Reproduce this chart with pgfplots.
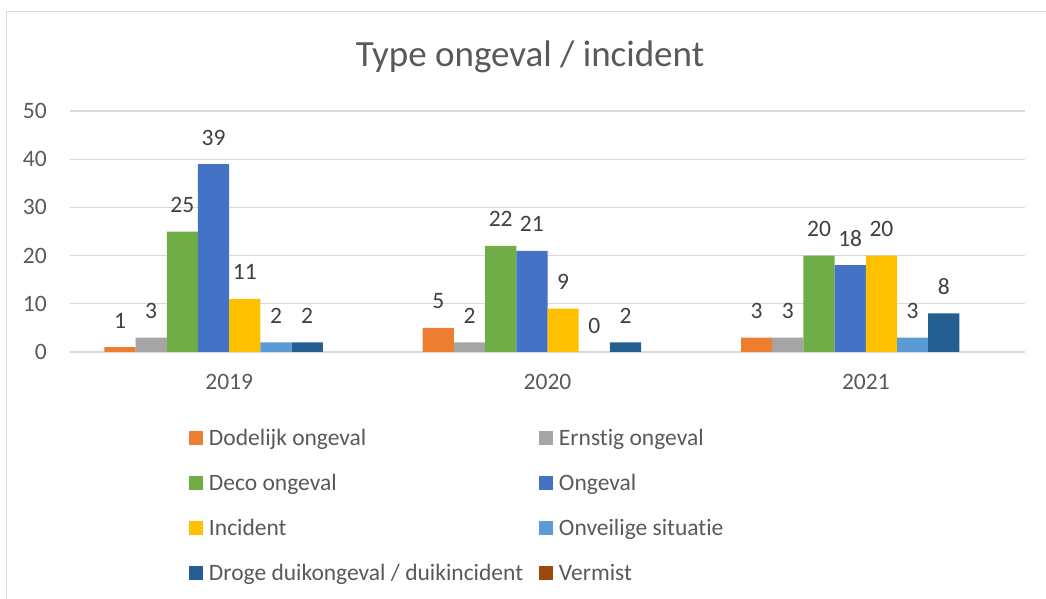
\documentclass[border=0pt]{standalone}
\usepackage{fontspec}
\setmainfont{Carlito}[Ligatures={NoCommon}]
\usepackage{pgfplots}
\pgfplotsset{compat=1.18}
\definecolor{cOrange}{HTML}{ED7D31}
\definecolor{cGrey}{HTML}{A5A5A5}
\definecolor{cGreen}{HTML}{70AD47}
\definecolor{cBlue}{HTML}{4472C4}
\definecolor{cGold}{HTML}{FFC000}
\definecolor{cLight}{HTML}{5B9BD5}
\definecolor{cDark}{HTML}{255E91}
\definecolor{cBrown}{HTML}{9E480E}
\definecolor{txt}{HTML}{595959}
\definecolor{lbl}{HTML}{404040}
\definecolor{gridc}{HTML}{D9D9D9}
\begin{document}
\begin{tikzpicture}
\path[use as bounding box] (0,0) rectangle (1046bp,599bp);
\draw[gridc, line width=1.5bp] (6.5bp,-2bp) -- (6.5bp,587.5bp) -- (1050bp,587.5bp);
\begin{axis}[
  at={(70bp,247bp)}, anchor=south west,
  width=955bp, height=241bp, scale only axis,
  xmin=-0.5, xmax=2.5, ymin=0, ymax=50,
  ybar, bar width=31.2bp,
  xtick={0,1,2}, xticklabels={2019,2020,2021},
  ytick={0,10,20,30,40,50},
  ymajorgrids, grid style={gridc, line width=1.3bp},
  axis line style={draw=none},
  major tick length=0pt,
  tick label style={font=\fontsize{23.5bp}{28bp}\selectfont, text=txt, inner sep=0pt},
  /pgf/number format/assume math mode=true,
  xticklabel style={anchor=base, yshift=-37bp},
  yticklabel style={anchor=east, xshift=-23bp},
  every axis title shift=0pt,
  title={Type ongeval / incident},
  title style={at={(0.4817,1.1826)}, anchor=base, yshift=0pt, font=\fontsize{37bp}{44bp}\selectfont, text=txt, inner sep=0pt},
  nodes near coords,
  every node near coord/.append style={anchor=base, yshift=19bp, font=\fontsize{23.5bp}{28bp}\selectfont, text=lbl, inner sep=0pt},
  legend columns=2,
  legend cell align=left,
  legend style={at={(0.1246,-0.3112)}, anchor=north west, draw=none, fill=none,
    inner sep=0pt, outer sep=0pt, row sep=23bp, column sep=0pt,
    font=\fontsize{23.5bp}{28bp}\selectfont, text=txt,
    nodes={inner sep=0pt, text height=18bp, text depth=4bp},
    /tikz/every odd column/.append style={column sep=6bp}},
  legend image code/.code={\fill[#1] (0bp,-7bp) rectangle (14bp,7bp);},
]
\addplot[fill=cOrange, draw=none, bar shift=-109.2bp] coordinates {(0,1) (1,5) (2,3)};
\addlegendentry{\makebox[330bp][l]{Dodelijk ongeval}}
\addplot[fill=cGrey, draw=none, bar shift=-78bp] coordinates {(0,3) (1,2) (2,3)};
\addlegendentry{Ernstig ongeval}
\addplot[fill=cGreen, draw=none, bar shift=-46.8bp] coordinates {(0,25) (1,22) (2,20)};
\addlegendentry{\makebox[330bp][l]{Deco ongeval}}
\addplot[fill=cBlue, draw=none, bar shift=-15.6bp] coordinates {(0,39) (1,21) (2,18)};
\addlegendentry{Ongeval}
\addplot[fill=cGold, draw=none, bar shift=15.6bp] coordinates {(0,11) (1,9) (2,20)};
\addlegendentry{\makebox[330bp][l]{Incident}}
\addplot[fill=cLight, draw=none, bar shift=46.8bp] coordinates {(0,2) (1,0) (2,3)};
\addlegendentry{Onveilige situatie}
\addplot[fill=cDark, draw=none, bar shift=78bp] coordinates {(0,2) (1,2) (2,8)};
\addlegendentry{\makebox[330bp][l]{Droge duikongeval / duikincident}}
\addlegendimage{fill=cBrown, draw=none}
\addlegendentry{Vermist}
\end{axis}
\end{tikzpicture}
\end{document}
